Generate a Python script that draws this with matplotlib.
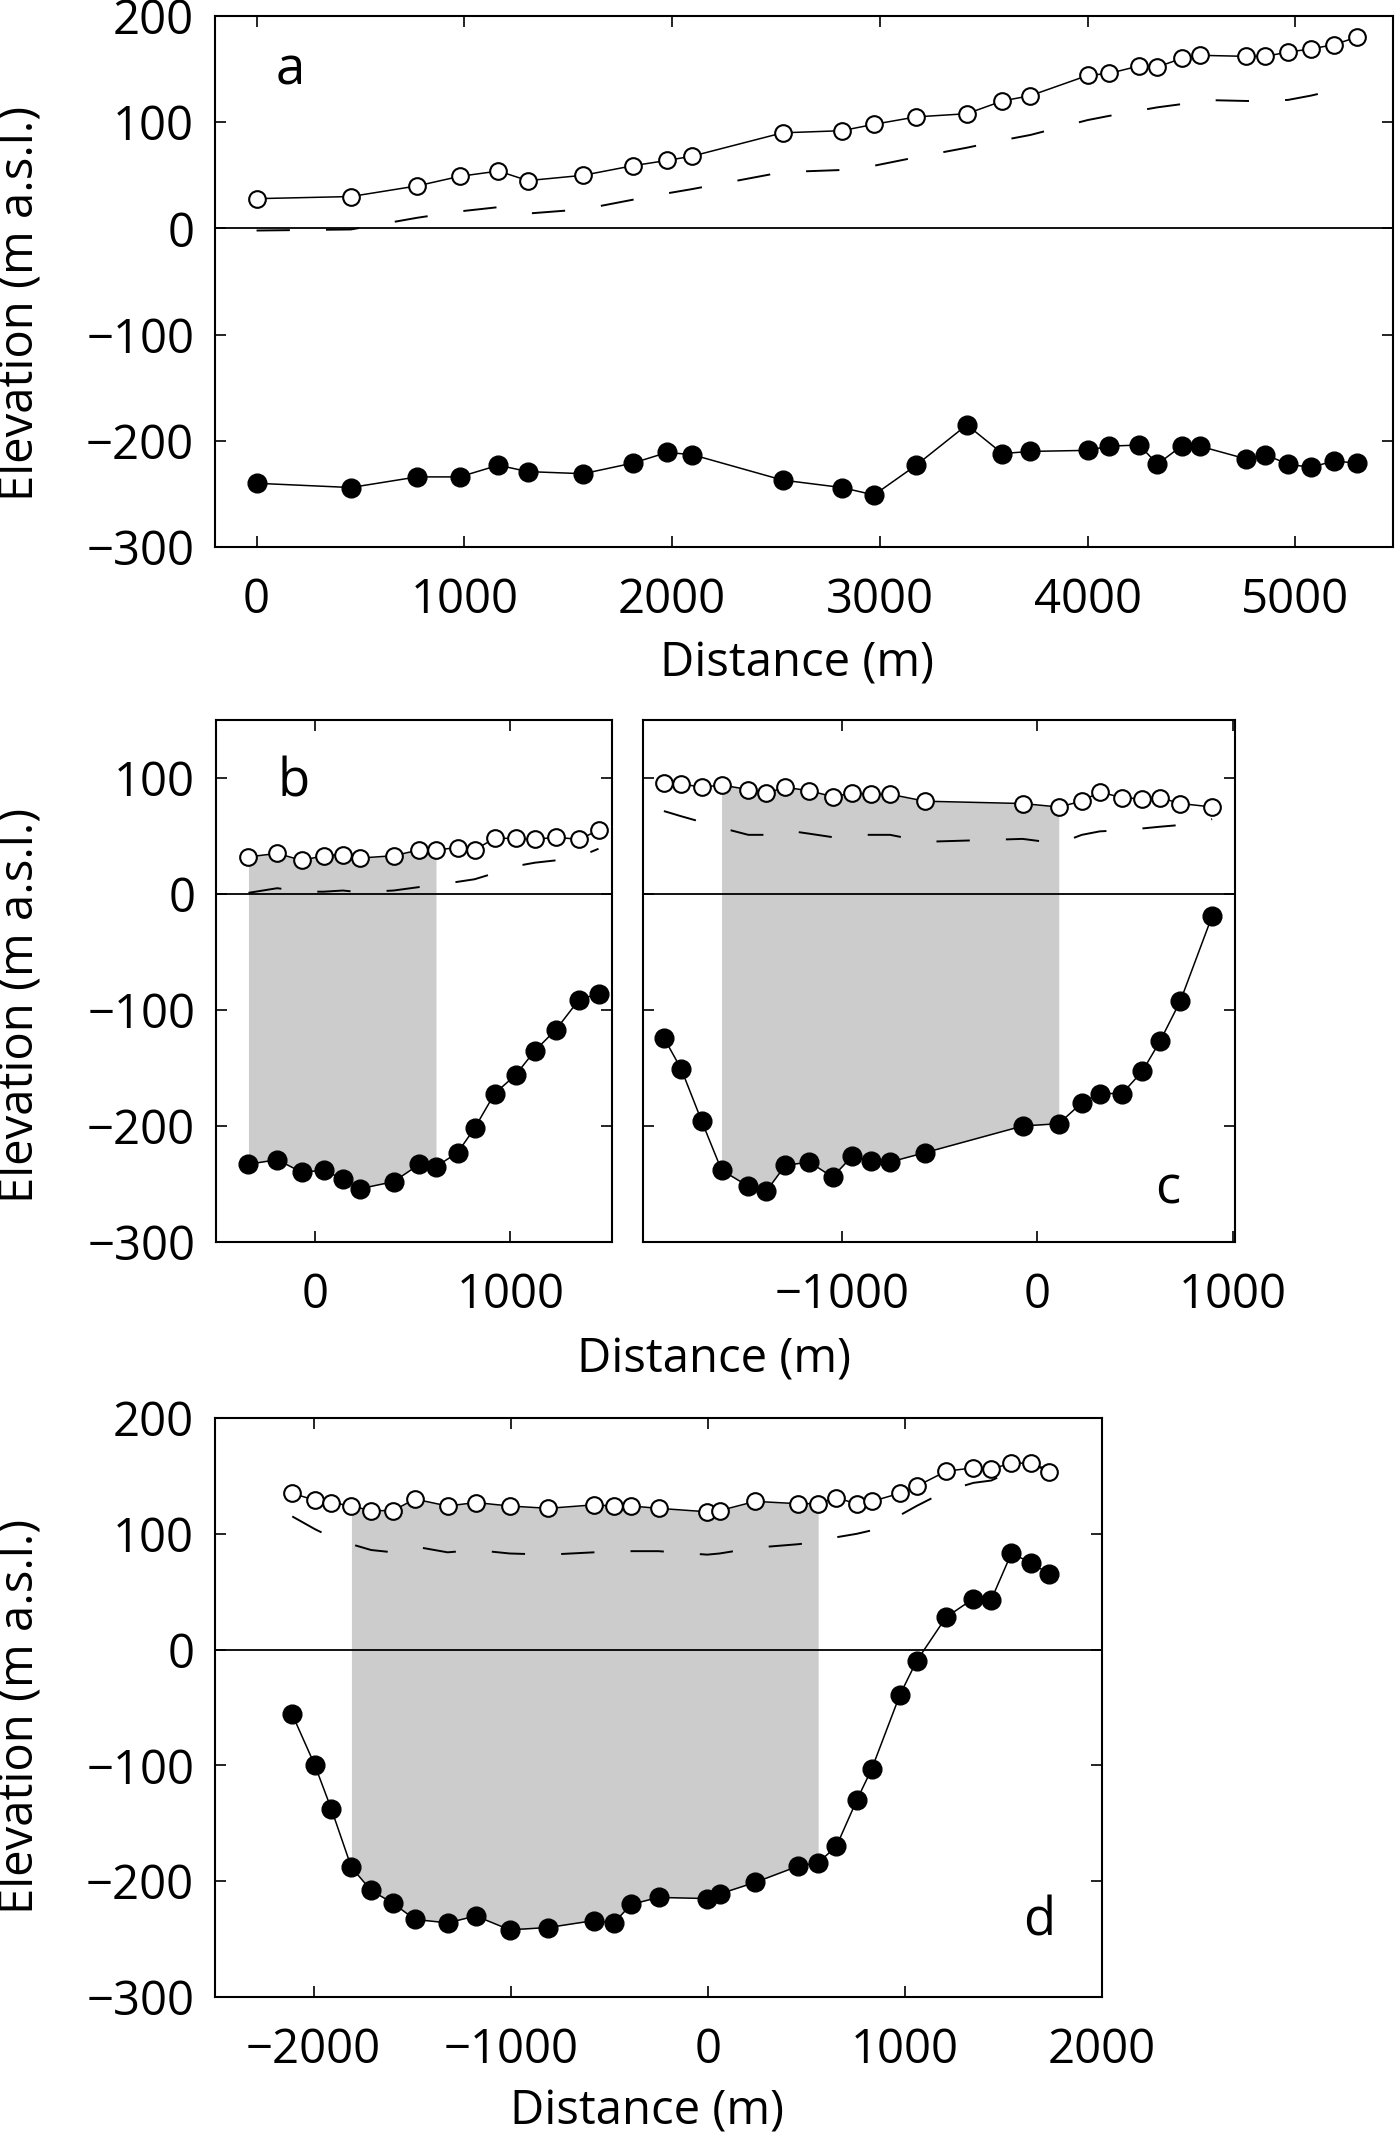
import matplotlib
matplotlib.use("Agg")
import matplotlib.pyplot as plt

plt.rcParams['font.family'] = ['Open Sans', 'DejaVu Sans']
plt.rcParams['lines.scale_dashes'] = False
plt.rcParams['axes.linewidth'] = 1.5

# ---------------- data ----------------
# panel a
a_x = [0, 454, 773, 977, 1164, 1306, 1572, 1811, 1976, 2096, 2532, 2817, 2972, 3175,
       3419, 3590, 3725, 4000, 4105, 4249, 4336, 4452, 4539, 4762, 4854, 4965, 5074, 5186, 5295]
a_surface = [28, 30, 40, 49, 54, 45, 50, 59, 64, 68, 90, 92, 98, 105, 108, 120, 125,
             144, 146, 153, 152, 160, 163, 162, 162, 166, 169, 173, 180]
a_bed = [-240, -244, -234, -234, -223, -229, -231, -221, -211, -213, -237, -244, -251, -223,
         -185, -212, -210, -209, -205, -204, -222, -205, -205, -217, -213, -222, -225, -219, -221]
a_float = [-2, -1, 10, 16, 20, 14, 18, 27, 33, 37, 53, 55, 59, 67, 76, 83, 88, 102, 106,
           111, 114, 117, 121, 120, 120, 121, 125, 130]

# panel b
b_x = [-339, -192, -66, 46, 144, 233, 403, 535, 620, 730, 817, 920, 1027, 1126, 1233, 1352, 1451]
b_surface = [32, 35, 29, 33, 34, 31, 33, 38, 38, 40, 38, 48, 48, 47, 49, 47, 55]
b_bed = [-233, -229, -240, -238, -246, -254, -248, -233, -235, -223, -202, -172, -156,
         -135, -117, -91, -86]
b_float = [1, 5, 2, 2, 3, 1.5, 3, 6, 7.5, 10.5, 12.7, 18, 24, 27, 29, 32, 39]
b_shade = (0, 8)

# panel c
c_x = [-1911, -1822, -1717, -1616, -1479, -1386, -1290, -1167, -1048, -947, -849, -753,
       -575, -75, 110, 228, 320, 434, 537, 628, 733, 895]
c_surface = [96, 95, 92, 94, 90, 87, 92, 89, 84, 87, 86, 86, 80, 78, 75, 80, 88, 83, 82, 83, 78, 75]
c_bed = [-124, -151, -196, -238, -252, -256, -234, -231, -244, -226, -230, -231, -223,
         -200, -198, -180, -172, -172, -153, -127, -92, -19]
c_float = [71.5, 67, 62, 57, 51, 51, 55, 52, 49, 51, 51, 51, 45, 47.5, 43.5, 51, 54, 55,
           56.5, 58, 59.5, 64.5]
c_shade = (3, 14)

# panel d
d_x = [-2108, -1993, -1909, -1808, -1708, -1597, -1486, -1320, -1177, -1005, -809, -578,
       -477, -388, -250, -3, 60, 241, 458, 560, 652, 756, 832, 975, 1059, 1209, 1348,
       1438, 1540, 1642, 1732]
d_surface = [135, 129, 127, 124, 120, 120, 130, 124, 127, 124, 122, 125, 124, 124, 122,
             119, 120, 128, 126, 126, 131, 126, 128, 135, 141, 154, 157, 156, 161, 161, 153]
d_bed = [-56, -100, -138, -188, -208, -219, -233, -236, -230, -242, -240, -234, -236, -220,
         -214, -215, -211, -201, -187, -184, -170, -130, -103, -39, -10, 28, 44, 43, 83, 75, 65]
d_float = [115, 104, 97, 91, 86, 84, 89, 84, 86, 83, 82, 84, 84, 85, 85, 82, 83, 88, 91,
           93, 97, 100, 103, 116, 124, 137, 144, 146, 154, 158, 157]
d_shade = (3, 19)

# ---------------- figure ----------------
W, H = 1400, 2136
fig = plt.figure(figsize=(W / 100, H / 100), dpi=100)


def rect(l, t, r, b):
    return [l / W, 1 - b / H, (r - l) / W, (b - t) / H]


ax_a = fig.add_axes(rect(215, 16, 1393, 547))
ax_b = fig.add_axes(rect(216, 720, 612, 1242))
ax_c = fig.add_axes(rect(643, 720, 1235, 1242))
ax_d = fig.add_axes(rect(215, 1418, 1102, 1997))

TICK_FS = 34
LABEL_FS = 34
LETTER_FS = 38


def draw(ax, x, surf, bed, flt, shade=None):
    if shade is not None:
        i0, i1 = shade
        ax.fill_between(x[i0:i1 + 1], bed[i0:i1 + 1], surf[i0:i1 + 1],
                        color='#cccccc', lw=0, zorder=1)
    ax.axhline(0, color='black', lw=1.3, zorder=2)
    ax.plot(x[:len(flt)], flt, color='black', lw=1.4, dashes=(24, 26), zorder=3)
    ax.plot(x, surf, color='black', lw=1.1, marker='o', ms=12, mfc='white',
            mec='black', mew=1.5, zorder=4)
    ax.plot(x, bed, color='black', lw=1.1, marker='o', ms=13.5, mfc='black',
            mec='black', mew=1.0, zorder=4)
    ax.tick_params(direction='in', top=True, right=True, length=8, width=1.2,
                   labelsize=TICK_FS)
    ax.tick_params(axis='x', pad=21)
    ax.tick_params(axis='y', pad=15)


draw(ax_a, a_x, a_surface, a_bed, a_float)
ax_a.set_xlim(-200, 5470)
ax_a.set_ylim(-300, 200)
ax_a.set_xticks([0, 1000, 2000, 3000, 4000, 5000])
ax_a.set_yticks([-300, -200, -100, 0, 100, 200])
ax_a.text(160, 148, 'a', fontsize=LETTER_FS, ha='center', va='center')

draw(ax_b, b_x, b_surface, b_bed, b_float, b_shade)
ax_b.set_xlim(-505, 1520)
ax_b.set_ylim(-300, 150)
ax_b.set_xticks([0, 1000])
ax_b.set_yticks([-300, -200, -100, 0, 100])
ax_b.text(-110, 96, 'b', fontsize=LETTER_FS, ha='center', va='center')

draw(ax_c, c_x, c_surface, c_bed, c_float, c_shade)
ax_c.set_xlim(-2018, 1012)
ax_c.set_ylim(-300, 150)
ax_c.set_xticks([-1000, 0, 1000])
ax_c.set_yticks([-300, -200, -100, 0, 100])
ax_c.set_yticklabels([])
ax_c.text(670, -255, 'c', fontsize=LETTER_FS, ha='center', va='center')

draw(ax_d, d_x, d_surface, d_bed, d_float, d_shade)
ax_d.set_xlim(-2500, 2000)
ax_d.set_ylim(-300, 200)
ax_d.set_xticks([-2000, -1000, 0, 1000, 2000])
ax_d.set_yticks([-300, -200, -100, 0, 100, 200])
ax_d.text(1680, -235, 'd', fontsize=LETTER_FS, ha='center', va='center')

# axis labels
fig.text(797 / W, 1 - 664 / H, 'Distance (m)', fontsize=LABEL_FS, ha='center', va='center')
fig.text(714 / W, 1 - 1360 / H, 'Distance (m)', fontsize=LABEL_FS, ha='center', va='center')
fig.text(647 / W, 1 - 2112 / H, 'Distance (m)', fontsize=LABEL_FS, ha='center', va='center')
for yc in (303, 1005, 1716):
    fig.text(21 / W, 1 - yc / H, 'Elevation (m a.s.l.)', fontsize=LABEL_FS,
             rotation=90, ha='center', va='center')

fig.savefig('out.png', dpi=100)
